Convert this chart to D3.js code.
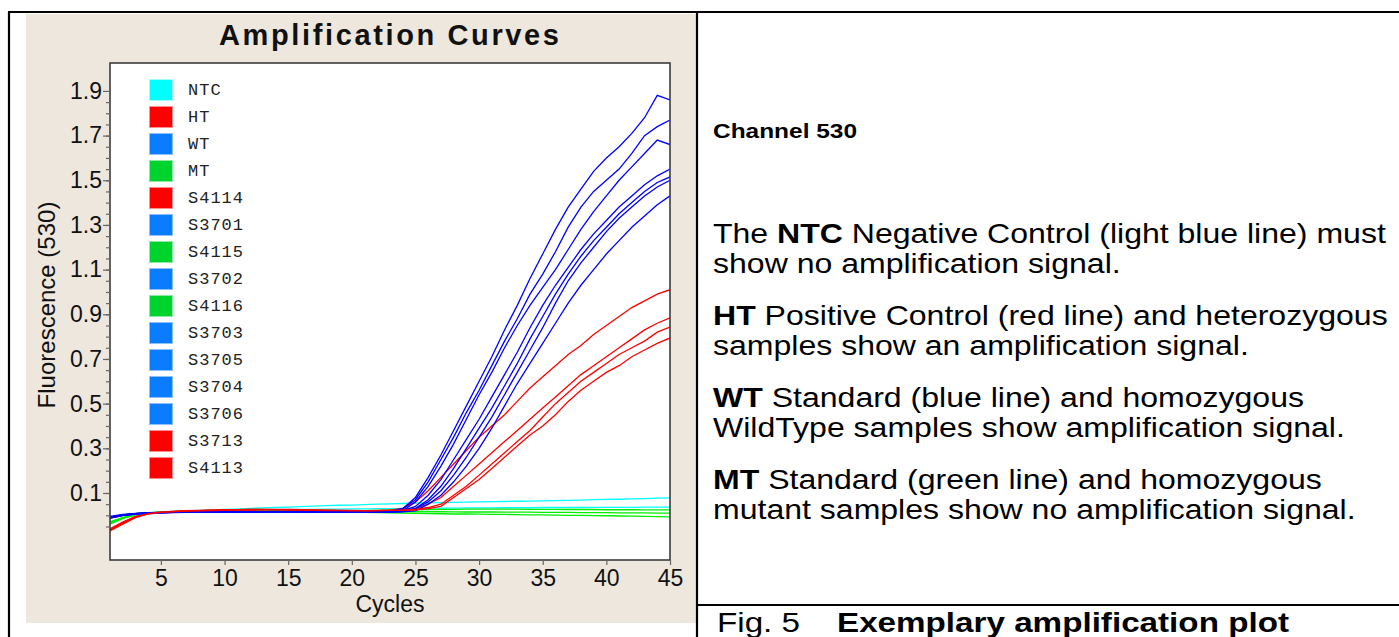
<!DOCTYPE html>
<html>
<head>
<meta charset="utf-8">
<script src="https://cdn.jsdelivr.net/npm/d3@7"></script>
<style>
  html, body { margin: 0; padding: 0; background: #fff; }
  svg { display: block; }
</style>
</head>
<body>
<div id="chart"></div>
<script>
/* Amplification curves, channel 530, with the explanatory text panel. */

var cycles = d3.range(1, 46);

var ntc    = [-0.03,-0.01,0.005,0.012,0.015,0.018,0.02,0.022,0.024,0.026,0.028,0.031,0.033,0.035,0.037,0.039,0.041,0.043,0.045,0.046,0.048,0.05,0.051,0.053,0.055,0.056,0.057,0.058,0.059,0.06,0.061,0.062,0.063,0.064,0.065,0.066,0.067,0.068,0.07,0.071,0.072,0.074,0.075,0.077,0.078];
var ntcRep = [-0.032,-0.012,0.004,0.011,0.014,0.016,0.018,0.019,0.02,0.021,0.022,0.023,0.024,0.025,0.026,0.027,0.027,0.028,0.028,0.029,0.029,0.03,0.03,0.031,0.031,0.032,0.032,0.032,0.033,0.033,0.033,0.034,0.034,0.034,0.035,0.035,0.035,0.035,0.036,0.036,0.036,0.036,0.037,0.037,0.037];
var ht     = [-0.066,-0.035,-0.008,0.008,0.014,0.018,0.021,0.022,0.023,0.024,0.025,0.026,0.026,0.025,0.025,0.024,0.023,0.022,0.022,0.021,0.021,0.022,0.024,0.03,0.06,0.11,0.17,0.23,0.29,0.35,0.40,0.45,0.51,0.57,0.62,0.67,0.72,0.76,0.81,0.85,0.89,0.93,0.96,0.99,1.01];
var wt     = [-0.005,0.004,0.009,0.012,0.013,0.014,0.015,0.016,0.016,0.017,0.017,0.018,0.018,0.018,0.019,0.019,0.018,0.018,0.017,0.017,0.016,0.017,0.019,0.03,0.08,0.17,0.27,0.38,0.49,0.60,0.71,0.83,0.94,1.06,1.17,1.28,1.38,1.46,1.54,1.60,1.65,1.71,1.78,1.88,1.86];
var mt     = [-0.035,-0.012,0.004,0.01,0.014,0.016,0.018,0.019,0.02,0.021,0.021,0.022,0.022,0.022,0.022,0.022,0.022,0.022,0.021,0.021,0.021,0.022,0.023,0.024,0.025,0.026,0.027,0.027,0.028,0.028,0.028,0.028,0.028,0.027,0.027,0.027,0.026,0.026,0.026,0.025,0.025,0.025,0.024,0.024,0.024];
var s4114  = [-0.06,-0.03,-0.005,0.009,0.015,0.018,0.02,0.021,0.022,0.023,0.024,0.025,0.025,0.024,0.024,0.023,0.022,0.022,0.021,0.021,0.02,0.021,0.022,0.025,0.03,0.05,0.08,0.13,0.18,0.23,0.28,0.33,0.38,0.43,0.48,0.53,0.58,0.63,0.67,0.71,0.75,0.79,0.83,0.86,0.884];
var s3701  = [-0.008,0.002,0.008,0.011,0.012,0.014,0.015,0.015,0.016,0.016,0.017,0.017,0.017,0.018,0.018,0.018,0.017,0.017,0.016,0.016,0.016,0.017,0.018,0.03,0.07,0.15,0.25,0.35,0.46,0.56,0.67,0.78,0.88,0.99,1.08,1.18,1.29,1.38,1.45,1.50,1.55,1.62,1.70,1.74,1.77];
var s4115  = [-0.03,-0.01,0.005,0.011,0.014,0.015,0.016,0.017,0.017,0.018,0.018,0.018,0.018,0.018,0.018,0.017,0.017,0.017,0.017,0.016,0.016,0.016,0.016,0.016,0.016,0.016,0.016,0.015,0.015,0.015,0.015,0.014,0.014,0.014,0.013,0.013,0.013,0.012,0.012,0.012,0.011,0.011,0.011,0.010,0.010];
var s3702  = [-0.012,0.0,0.007,0.011,0.012,0.013,0.014,0.015,0.015,0.016,0.016,0.016,0.017,0.017,0.017,0.017,0.016,0.016,0.015,0.015,0.015,0.016,0.017,0.02,0.06,0.13,0.22,0.32,0.43,0.54,0.64,0.75,0.85,0.94,1.02,1.10,1.19,1.28,1.36,1.43,1.50,1.56,1.62,1.68,1.66];
var s4116  = [-0.04,-0.015,0.002,0.009,0.012,0.014,0.015,0.016,0.016,0.016,0.016,0.016,0.016,0.016,0.015,0.015,0.015,0.014,0.014,0.013,0.013,0.012,0.011,0.010,0.009,0.008,0.007,0.006,0.006,0.005,0.004,0.004,0.003,0.002,0.002,0.001,0.0,0.0,-0.001,-0.002,-0.003,-0.004,-0.005,-0.006,-0.007];
var s3703  = [-0.01,0.001,0.007,0.01,0.012,0.013,0.014,0.014,0.015,0.015,0.016,0.016,0.016,0.017,0.017,0.016,0.016,0.015,0.015,0.014,0.014,0.015,0.016,0.02,0.04,0.09,0.16,0.25,0.34,0.43,0.53,0.63,0.73,0.84,0.94,1.03,1.11,1.19,1.26,1.32,1.38,1.43,1.48,1.52,1.55];
var s3705  = [-0.011,0.0,0.006,0.01,0.012,0.013,0.013,0.014,0.014,0.015,0.015,0.015,0.016,0.016,0.016,0.016,0.015,0.015,0.014,0.014,0.014,0.014,0.015,0.018,0.03,0.07,0.13,0.21,0.30,0.39,0.48,0.58,0.68,0.79,0.89,0.99,1.08,1.16,1.23,1.29,1.35,1.40,1.45,1.49,1.515];
var s3704  = [-0.009,0.002,0.007,0.011,0.012,0.013,0.014,0.015,0.015,0.015,0.016,0.016,0.016,0.016,0.016,0.015,0.015,0.015,0.014,0.014,0.013,0.014,0.015,0.017,0.03,0.06,0.11,0.18,0.26,0.35,0.44,0.54,0.64,0.74,0.84,0.95,1.05,1.13,1.20,1.27,1.33,1.38,1.43,1.47,1.50];
var s3706  = [-0.013,-0.001,0.006,0.01,0.011,0.012,0.013,0.014,0.014,0.014,0.015,0.015,0.015,0.015,0.015,0.015,0.014,0.014,0.014,0.013,0.013,0.013,0.014,0.016,0.02,0.05,0.09,0.15,0.22,0.30,0.39,0.49,0.59,0.68,0.77,0.86,0.95,1.03,1.10,1.17,1.23,1.29,1.34,1.39,1.43];
var s3713  = [-0.07,-0.04,-0.01,0.006,0.013,0.017,0.02,0.021,0.023,0.024,0.025,0.026,0.027,0.027,0.026,0.025,0.024,0.023,0.022,0.022,0.021,0.021,0.022,0.023,0.026,0.035,0.05,0.09,0.13,0.18,0.23,0.28,0.33,0.38,0.44,0.50,0.55,0.60,0.64,0.68,0.72,0.75,0.78,0.82,0.843];
var s4113  = [-0.065,-0.033,-0.007,0.008,0.014,0.017,0.019,0.02,0.021,0.022,0.023,0.023,0.024,0.024,0.023,0.023,0.022,0.021,0.021,0.02,0.02,0.021,0.022,0.022,0.025,0.03,0.04,0.08,0.12,0.16,0.21,0.26,0.31,0.36,0.40,0.45,0.51,0.56,0.60,0.64,0.67,0.71,0.74,0.77,0.794];

var legendNames  = ["NTC", "HT", "WT", "MT", "S4114", "S3701", "S4115", "S3702", "S4116", "S3703", "S3705", "S3704", "S3706", "S3713", "S4113"];
var legendGroups = ["ntc", "ht", "wt", "mt", "ht", "wt", "mt", "wt", "mt", "wt", "wt", "wt", "wt", "ht", "ht"];

var series = [
  { group: "ntc", values: ntc }, { group: "ntc", values: ntcRep },
  { group: "ht", values: ht }, { group: "wt", values: wt }, { group: "mt", values: mt },
  { group: "ht", values: s4114 }, { group: "wt", values: s3701 }, { group: "mt", values: s4115 },
  { group: "wt", values: s3702 }, { group: "mt", values: s4116 }, { group: "wt", values: s3703 },
  { group: "wt", values: s3705 }, { group: "wt", values: s3704 }, { group: "wt", values: s3706 },
  { group: "ht", values: s3713 }, { group: "ht", values: s4113 }
];

var yMajorTicks = [0.1, 0.3, 0.5, 0.7, 0.9, 1.1, 1.3, 1.5, 1.7, 1.9];
var xTicks = [5, 10, 15, 20, 25, 30, 35, 40, 45];

var textLines = [
  { y: 138, size: 21, parts: [["Channel 530", true]] },
  { y: 243, size: 27.5, parts: [["The ", false], ["NTC", true], [" Negative Control (light blue line) must", false]] },
  { y: 273, size: 27.5, parts: [["show no amplification signal.", false]] },
  { y: 325, size: 27.5, parts: [["HT", true], [" Positive Control (red line) and heterozygous", false]] },
  { y: 355, size: 27.5, parts: [["samples show an amplification signal.", false]] },
  { y: 407, size: 27.5, parts: [["WT", true], [" Standard (blue line) and homozygous", false]] },
  { y: 437, size: 27.5, parts: [["WildType samples show amplification signal.", false]] },
  { y: 489, size: 27.5, parts: [["MT", true], [" Standard (green line) and homozygous", false]] },
  { y: 519, size: 27.5, parts: [["mutant samples show no amplification signal.", false]] }
];

var lineColor = { ntc: "#00ffff", ht: "#ff0000", wt: "#0000ff", mt: "#00ee00" };
var swatchColor = { ntc: "#00ffff", ht: "#ff0000", wt: "#0a7cff", mt: "#00d22e" };
var swatchEdge = { ntc: "#9ffcff", ht: "#ff8f8f", wt: "#8cc0ff", mt: "#8fe8a2" };

var W = 1399, H = 637;
var sans = "Arial, 'Liberation Sans', Helvetica, sans-serif";
var stretch = 1.165;

var svg = d3.select("#chart").append("svg")
  .attr("width", W).attr("height", H)
  .attr("viewBox", "0 0 " + W + " " + H);

// beige chart panel
svg.append("rect").attr("x", 26).attr("y", 14).attr("width", 671).attr("height", 609).attr("fill", "#eee7dd");

var x = d3.scaleLinear().domain([1, 45]).range([110, 670]);
var y = d3.scaleLinear().domain([-0.2, 2.025]).range([560, 63]);

svg.append("rect").attr("x", 110).attr("y", 63).attr("width", 560).attr("height", 497).attr("fill", "#fff");

svg.append("defs").append("clipPath").attr("id", "plotclip")
  .append("rect").attr("x", 110).attr("y", 63).attr("width", 560).attr("height", 497);

// curves
var line = d3.line()
  .x(function (_d, i) { return x(cycles[i]); })
  .y(function (d) { return y(d); });

svg.append("g").attr("clip-path", "url(#plotclip)")
  .selectAll("path").data(series).enter().append("path")
  .attr("d", function (d) { return line(d.values); })
  .attr("fill", "none")
  .attr("stroke", function (d) { return lineColor[d.group]; })
  .attr("stroke-width", 1.3);

// legend
var leg = svg.append("g");
legendNames.forEach(function (name, i) {
  var top = 79 + i * 27;
  leg.append("rect").attr("x", 149.5).attr("y", top + 0.5).attr("width", 23).attr("height", 21)
    .attr("fill", swatchColor[legendGroups[i]]).attr("stroke", swatchEdge[legendGroups[i]]).attr("stroke-width", 1);
  leg.append("text").attr("x", 188).attr("y", top + 16)
    .attr("font-family", "'Courier New', 'Liberation Mono', monospace")
    .attr("font-size", 17).attr("letter-spacing", 1).attr("fill", "#222")
    .text(name);
});

// plot frame
svg.append("rect").attr("x", 110).attr("y", 63).attr("width", 560).attr("height", 497)
  .attr("fill", "none").attr("stroke", "#3c3c3c").attr("stroke-width", 1.6);

// axes
var yMinor = svg.append("g").attr("transform", "translate(110,0)")
  .call(d3.axisLeft(y).tickValues(d3.range(-0.05, 1.9, 0.05)).tickSize(4).tickFormat(""));
var yAxis = svg.append("g").attr("transform", "translate(110,0)")
  .call(d3.axisLeft(y).tickValues(yMajorTicks).tickSize(7).tickPadding(1).tickFormat(d3.format(".1f")));
var xAxis = svg.append("g").attr("transform", "translate(0,560)")
  .call(d3.axisBottom(x).tickValues(xTicks).tickSize(5).tickPadding(5));

[yMinor, yAxis, xAxis].forEach(function (g) {
  g.select(".domain").remove();
  g.selectAll(".tick line").attr("stroke", "#666").attr("stroke-width", 1.2);
  g.selectAll(".tick text").attr("font-family", sans).attr("font-size", 23).attr("fill", "#111");
});

// titles
svg.append("text").attr("x", 389).attr("y", 45).attr("text-anchor", "middle")
  .attr("font-family", sans).attr("font-size", 29).attr("font-weight", "bold")
  .attr("textLength", 340).attr("lengthAdjust", "spacing").attr("fill", "#111")
  .text("Amplification Curves");

svg.append("text").attr("x", 390).attr("y", 612).attr("text-anchor", "middle")
  .attr("font-family", sans).attr("font-size", 23).attr("fill", "#111")
  .text("Cycles");

svg.append("text").attr("transform", "translate(47,305) rotate(-90)")
  .attr("text-anchor", "middle").attr("dy", "0.35em")
  .attr("font-family", sans).attr("font-size", 24).attr("fill", "#111")
  .text("Fluorescence (530)");

// explanatory text panel
var panel = svg.append("g").attr("transform", "translate(713,0) scale(" + stretch + ",1)");
textLines.forEach(function (ln) {
  var t = panel.append("text").attr("x", 0).attr("y", ln.y)
    .attr("font-family", sans).attr("font-size", ln.size).attr("fill", "#000");
  ln.parts.forEach(function (p) {
    t.append("tspan").attr("font-weight", p[1] ? "bold" : "normal").text(p[0]);
  });
});

var cap = svg.append("g").attr("transform", "translate(717,0) scale(" + stretch + ",1)");
var capText = cap.append("text").attr("x", 0).attr("y", 632)
  .attr("font-family", sans).attr("font-size", 28.5).attr("fill", "#000");
capText.append("tspan").text("Fig. 5");
capText.append("tspan").attr("x", 103).attr("font-weight", "bold").text("Exemplary amplification plot");

// document frame lines
var frame = [
  [8, 12, 1399, 12],
  [9, 12, 9, 637],
  [697, 12, 697, 637],
  [697, 605, 1399, 605]
];
svg.append("g").selectAll("line").data(frame).enter().append("line")
  .attr("x1", function (d) { return d[0]; }).attr("y1", function (d) { return d[1]; })
  .attr("x2", function (d) { return d[2]; }).attr("y2", function (d) { return d[3]; })
  .attr("stroke", "#000").attr("stroke-width", 2.2);
</script>
</body>
</html>
